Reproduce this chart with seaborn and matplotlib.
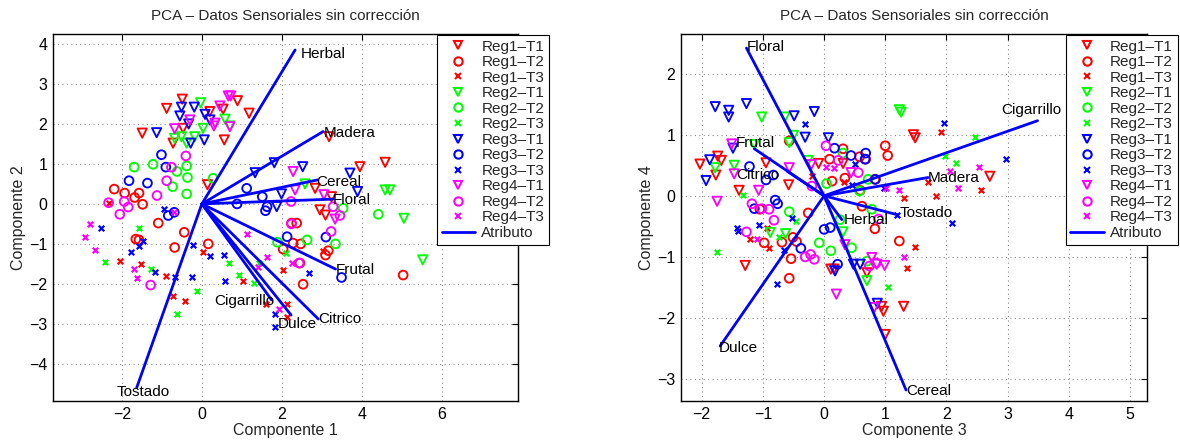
import numpy as np
import pandas as pd
import matplotlib
matplotlib.use("Agg")
import matplotlib.pyplot as plt
import seaborn as sns
from matplotlib.lines import Line2D

# ---------------- data: Componente 1 vs Componente 2 ----------------
groups = ["Reg1–T1", "Reg1–T2", "Reg1–T3", "Reg2–T1", "Reg2–T2", "Reg2–T3",
          "Reg3–T1", "Reg3–T2", "Reg3–T3", "Reg4–T1", "Reg4–T2", "Reg4–T3"]

c12_reg1_t1 = [(-0.49, 2.62), (-0.88, 2.39), (-1.49, 1.77), (-0.72, 1.52), (-0.47, 1.89), (0.2, 2.31),
               (0.53, 2.37), (0.89, 2.58), (0.56, 1.6), (0.14, 0.48), (1.18, 2.27), (3.18, 1.68),
               (4.58, 1.04), (3.95, 0.93), (2.83, 0.39), (3.24, 0.18), (2.95, -0.15), (3.09, -0.28)]
c12_reg1_t2 = [(-2.19, 0.37), (-1.93, 0.27), (-1.57, 0.27), (-1.68, 0.16), (-1.48, -0.01), (-1.09, -0.48),
               (-0.44, -0.71), (-0.68, -1.09), (-1.65, -0.88), (-1.57, -0.9), (0.16, -1.0), (2.24, -0.48),
               (2.37, -0.48), (2.03, -1.13), (2.28, -0.98), (2.47, -1.0), (3.16, -1.17), (3.09, -1.28),
               (2.45, -1.48), (2.53, -2.01), (5.03, -1.78)]
c12_reg1_t3 = [(-2.05, -1.44), (-1.51, -1.51), (-0.9, -1.8), (-0.73, -2.3), (-0.41, -2.43), (0.03, -1.21),
               (1.03, -1.92), (2.03, -1.65), (1.6, -2.5), (2.13, -2.51), (2.13, -2.83), (3.03, -1.17),
               (-2.32, 0.02)]
c12_reg2_t1 = [(-0.03, 2.53), (-0.68, 1.64), (-0.51, 1.68), (-0.38, 1.52), (-0.18, 1.68), (0.03, 1.89),
               (0.58, 2.12), (0.7, 1.95), (2.58, 0.5), (4.58, 0.35), (4.7, 0.35), (5.05, -0.36), (5.52, -1.4)]
c12_reg2_t2 = [(-1.69, 0.92), (-1.22, 0.99), (-0.62, 0.81), (-0.38, 0.95), (-0.36, 0.66), (-0.73, 0.43),
               (-0.38, 0.25), (0.28, 0.64), (4.41, -0.26), (3.53, -0.11), (1.89, -0.96), (2.63, -0.9),
               (3.34, -1.0)]
c12_reg2_t3 = [(-2.41, -1.46), (-1.58, -0.61), (-1.26, -1.63), (-0.13, -2.19), (-0.61, -2.75), (0.68, -1.47),
               (0.93, -1.78), (1.3, -1.97), (1.43, -1.48), (2.1, -1.23)]
c12_reg3_t1 = [(-0.51, 2.42), (-0.19, 2.42), (-0.55, 2.2), (-0.33, 2.0), (-1.13, 1.78), (-0.28, 1.52),
               (0.06, 1.6), (0.08, 2.24), (0.2, 2.1), (2.52, 0.93), (3.7, 0.77), (1.99, 0.25),
               (3.89, 0.31), (1.87, -0.07), (1.33, 0.78), (1.81, 1.03)]
c12_reg3_t2 = [(-1.82, 0.58), (-1.36, 0.52), (-1.01, 1.23), (-0.9, 0.92), (-0.84, -0.29), (-0.69, -0.21),
               (1.12, 0.39), (1.51, 0.18), (1.63, -0.07), (1.59, -0.17), (0.88, 0.0), (2.13, -0.82),
               (3.1, -0.83), (3.49, -1.84)]
c12_reg3_t3 = [(-2.53, -0.61), (-1.78, -1.21), (-1.58, -1.05), (-1.47, -0.92), (-1.16, -1.71), (-0.68, -1.83),
               (-0.94, -0.13), (-0.22, -1.03), (-0.24, -1.83), (0.2, -1.3), (0.56, -1.29), (0.58, -1.92),
               (2.68, -1.73), (1.84, -2.75), (1.82, -3.09)]
c12_reg4_t1 = [(0.66, 2.7), (0.72, 2.7), (0.45, 2.45), (-0.3, 2.1), (-0.68, 1.88), (0.33, 2.02),
               (0.7, 1.93), (0.3, 1.95), (2.28, 0.81), (2.33, 0.35), (3.05, 0.23), (3.33, -0.38)]
c12_reg4_t2 = [(-2.33, 0.03), (-1.94, 0.06), (-2.05, -0.26), (-1.84, -0.08), (-0.76, 0.92), (-0.88, 0.58),
               (-0.4, 1.2), (-1.12, 0.21), (2.23, 0.06), (3.28, -0.07), (3.45, -0.29), (2.24, -0.5),
               (3.23, -0.69), (2.43, -1.48), (-1.28, -2.03)]
c12_reg4_t3 = [(-2.8, -0.51), (-2.91, -0.84), (-2.66, -1.15), (-1.69, -1.63), (-1.63, -1.86), (1.13, -0.75),
               (1.41, -1.57), (1.62, -1.32), (2.24, -1.47), (1.93, -2.63), (-0.69, -0.21)]

attr_names_12 = ["Herbal", "Madera", "Cereal", "Floral", "Frutal", "Citrico", "Dulce", "Cigarrillo", "Tostado"]
attr_x_12 = [2.33, 3.03, 2.89, 3.28, 3.34, 2.91, 2.23, 1.74, -1.63]
attr_y_12 = [3.85, 1.81, 0.60, 0.12, -1.63, -2.88, -2.78, -2.40, -4.60]
label_x_12 = [2.47, 3.05, 2.87, 3.27, 3.34, 2.91, 1.89, 0.30, -2.12]
label_y_12 = [3.75, 1.77, 0.56, 0.10, -1.65, -2.88, -3.01, -2.42, -4.71]

# ---------------- data: Componente 3 vs Componente 4 ----------------
c34_reg1_t1 = [(-2.03, 0.52), (-1.74, 0.65), (-1.68, 0.58), (-1.77, 0.34), (-0.95, 0.54), (-0.58, 0.18),
               (-1.39, 0.09), (-0.09, 0.53), (0.31, 0.53), (1.46, 1.0), (1.49, 0.95), (2.71, 0.32),
               (-1.29, -1.14), (0.11, -1.2), (0.16, -1.2), (0.7, -1.26), (0.94, -1.81), (0.97, -1.89),
               (1.3, -1.81), (1.0, -2.27)]
c34_reg1_t2 = [(-0.57, 0.9), (0.09, 0.6), (0.31, 0.77), (0.58, 0.64), (0.68, 0.6), (0.34, 0.29),
               (0.13, 0.24), (0.59, 0.09), (0.83, 0.27), (1.0, 0.82), (1.04, 0.66), (-0.26, -0.28),
               (-1.05, -0.22), (-0.98, -0.77), (-0.69, -0.76), (-0.51, -0.68), (-0.45, -0.75), (-0.54, -1.03),
               (-0.57, -1.35), (0.62, -0.17), (0.83, -0.54), (1.23, -0.74)]
c34_reg1_t3 = [(-0.19, 0.33), (0.33, 0.22), (1.91, 1.04), (2.57, 0.1), (1.83, -0.01), (1.7, 0.23),
               (1.3, -0.03), (1.49, -0.83), (1.36, -1.19), (-1.21, -0.7), (-0.94, -0.53), (-0.9, -0.85)]
c34_reg2_t1 = [(-1.02, 1.29), (-0.64, 1.29), (-0.5, 0.99), (-0.57, 0.87), (-1.14, 0.84), (-1.47, 0.5),
               (-1.78, 0.46), (-0.26, 0.58), (1.23, 1.41), (1.26, 1.37), (-0.88, -0.6), (-0.63, -0.62),
               (0.31, -0.59), (0.7, -1.39)]
c34_reg2_t2 = [(0.31, 0.7), (0.04, 0.2), (0.72, 0.27), (0.58, 0.08), (-0.57, -0.26), (0.26, -0.39),
               (0.78, -0.22), (-0.08, -0.77), (0.11, -0.9), (0.45, -0.85), (0.7, -1.07)]
c34_reg2_t3 = [(-1.33, 0.01), (-0.46, -0.41), (2.47, 0.97), (1.97, 0.66), (2.16, 0.53), (1.05, -1.5),
               (-1.75, -0.92), (-0.74, -0.67)]
c34_reg3_t1 = [(-1.78, 1.46), (-1.56, 1.40), (-1.56, 1.29), (-1.27, 1.51), (-0.49, 1.31), (-0.16, 1.38),
               (-0.31, 0.96), (0.07, 0.95), (-1.87, 0.59), (-1.93, 0.25), (-1.49, 0.78), (0.18, -1.23),
               (0.48, -1.12), (0.59, -1.12), (0.87, -1.76)]
c34_reg3_t2 = [(-1.22, 0.48), (-0.95, 0.26), (-0.83, 0.34), (-0.8, -0.07), (-0.76, -0.13), (-1.14, -0.21),
               (0.17, 0.78), (0.44, 0.66), (0.68, 0.7), (0.84, 0.27), (0.67, 0.6), (0.0, -0.55),
               (0.1, -0.52), (-0.38, -0.86), (0.22, -1.12)]
c34_reg3_t3 = [(-0.32, 1.18), (0.5, 0.52), (0.45, 0.18), (1.96, 1.2), (2.97, 0.6), (0.98, 0.12),
               (2.09, -0.45), (-0.53, -0.36), (-1.43, -0.52), (-1.4, -0.58), (-1.06, -0.48), (-0.65, -0.88),
               (-0.77, -1.45), (1.2, -0.31)]
c34_reg4_t1 = [(-1.51, 0.85), (-1.47, 0.36), (-0.57, 0.46), (-1.07, 0.09), (-1.75, -0.09), (-0.21, 0.51),
               (0.44, 0.38), (0.34, -0.8), (0.78, -1.01), (0.86, -1.12), (0.99, -1.14), (0.2, -1.61),
               (0.82, -1.83)]
c34_reg4_t2 = [(0.03, 0.82), (0.23, 0.58), (0.56, 0.38), (-0.2, 0.16), (-1.18, -0.13), (-1.02, -0.21),
               (-0.9, -0.22), (-0.82, -0.4), (-1.27, -0.59), (-0.31, -1.0), (-0.22, -0.96), (-0.16, -1.04),
               (0.74, -1.15), (0.85, -1.1), (0.89, -0.38)]
c34_reg4_t3 = [(0.03, 0.48), (0.17, 0.46), (2.06, 0.4), (2.54, 0.48), (2.19, 0.13), (1.23, 0.09),
               (1.01, 0.12), (1.31, -1.0), (-1.1, -0.71)]

attr_names_34 = ["Floral", "Frutal", "Citrico", "Cigarrillo", "Madera", "Tostado", "Herbal", "Cereal", "Dulce"]
attr_x_34 = [-1.27, -1.14, -0.60, 3.49, 1.70, 1.20, 0.29, 1.34, -1.70]
attr_y_34 = [2.42, 0.77, 0.40, 1.23, 0.30, -0.31, -0.39, -3.18, -2.46]
label_x_34 = [-1.27, -1.45, -1.43, 2.89, 1.70, 1.24, 0.32, 1.35, -1.72]
label_y_34 = [2.43, 0.87, 0.34, 1.41, 0.29, -0.28, -0.39, -3.19, -2.49]

# ---------------- styling ----------------
sns.set_theme(style="white")
plt.rcParams["font.family"] = ["Liberation Sans", "DejaVu Sans"]

region_colors = {"Reg1": (1, 0, 0), "Reg2": (0, 1, 0), "Reg3": (0, 0, 1), "Reg4": (1, 0, 1)}
treat_markers = {"T1": "v", "T2": "o", "T3": "x"}

c12 = [c12_reg1_t1, c12_reg1_t2, c12_reg1_t3, c12_reg2_t1, c12_reg2_t2, c12_reg2_t3,
       c12_reg3_t1, c12_reg3_t2, c12_reg3_t3, c12_reg4_t1, c12_reg4_t2, c12_reg4_t3]
c34 = [c34_reg1_t1, c34_reg1_t2, c34_reg1_t3, c34_reg2_t1, c34_reg2_t2, c34_reg2_t3,
       c34_reg3_t1, c34_reg3_t2, c34_reg3_t3, c34_reg4_t1, c34_reg4_t2, c34_reg4_t3]

fig = plt.figure(figsize=(11.8, 4.44), dpi=100)
ax1 = fig.add_axes([53 / 1180, 43 / 444, 465 / 1180, 367 / 444])
ax2 = fig.add_axes([681 / 1180, 43 / 444, 466 / 1180, 367 / 444])


def draw_panel(ax, sets, names, ax_, ay_, lx, ly, xlabel, ylabel, xlim, ylim, xticks, yticks):
    for g, pts in zip(groups, sets):
        reg, tr = g.split("–")
        col = region_colors[reg]
        mk = treat_markers[tr]
        df = pd.DataFrame(pts, columns=["x", "y"])
        if mk == "x":
            sns.scatterplot(data=df, x="x", y="y", ax=ax, marker="x", color=col, s=16,
                            linewidth=1.6, legend=False, zorder=3)
        else:
            sns.scatterplot(data=df, x="x", y="y", ax=ax, marker=mk, color=col,
                            facecolors="none", edgecolor=col, s=44 if mk == "v" else 40,
                            linewidth=1.35, legend=False, zorder=3)
    vec = pd.DataFrame({
        "attr": np.repeat(names, 2),
        "x": np.ravel([[0.0, v] for v in ax_]),
        "y": np.ravel([[0.0, v] for v in ay_]),
    })
    sns.lineplot(data=vec, x="x", y="y", units="attr", estimator=None, sort=False,
                 ax=ax, color=(0, 0, 1), linewidth=2.0, legend=False, zorder=4)
    for n, tx, ty in zip(names, lx, ly):
        ax.text(tx, ty, n, ha="left", va="center", fontsize=11, color="black", zorder=5)

    ax.set_xlim(*xlim)
    ax.set_ylim(*ylim)
    ax.set_xticks(xticks)
    ax.set_yticks(yticks)
    ax.set_xticklabels([str(t).replace("-", "−") for t in xticks], fontsize=11.5)
    ax.set_yticklabels([str(t).replace("-", "−") for t in yticks], fontsize=11.5)
    ax.set_xlabel(xlabel, fontsize=11.5, labelpad=1)
    ax.set_ylabel(ylabel, fontsize=11.5, labelpad=2)
    ax.set_title("PCA – Datos Sensoriales sin corrección", fontsize=11, pad=10)
    ax.grid(True, linestyle=(0, (1, 3)), color="#8c8c8c", linewidth=0.8)
    ax.set_axisbelow(True)
    ax.tick_params(direction="in", top=True, right=True, length=4, width=0.8,
                   colors="black", pad=4)
    for sp in ax.spines.values():
        sp.set_color("black")
        sp.set_linewidth(1.0)

    handles = []
    for g in groups:
        reg, tr = g.split("–")
        col = region_colors[reg]
        mk = treat_markers[tr]
        if mk == "x":
            handles.append(Line2D([], [], linestyle="none", marker="x", color=col,
                                  markersize=4, markeredgewidth=1.5))
        else:
            handles.append(Line2D([], [], linestyle="none", marker=mk, color=col,
                                  markerfacecolor="none", markersize=6, markeredgewidth=1.5))
    handles.append(Line2D([], [], color=(0, 0, 1), linewidth=2.0))
    leg = ax.legend(handles, groups + ["Atributo"], loc="upper left",
                    bbox_to_anchor=(0.826, 0.997), fontsize=11, frameon=True,
                    fancybox=False, framealpha=1, edgecolor="black", borderpad=0.3,
                    labelspacing=0.1, handlelength=2.2, handletextpad=0.4,
                    borderaxespad=0)
    leg.get_frame().set_linewidth(0.8)
    leg.set_zorder(10)


draw_panel(ax1, c12, attr_names_12, attr_x_12, attr_y_12, label_x_12, label_y_12,
           "Componente 1", "Componente 2", (-3.72, 7.9), (-4.93, 4.25),
           [-2, 0, 2, 4, 6], [-4, -3, -2, -1, 0, 1, 2, 3, 4])
draw_panel(ax2, c34, attr_names_34, attr_x_34, attr_y_34, label_x_34, label_y_34,
           "Componente 3", "Componente 4", (-2.34, 5.28), (-3.36, 2.65),
           [-2, -1, 0, 1, 2, 3, 4, 5], [-3, -2, -1, 0, 1, 2])

fig.savefig("out.png", dpi=100)
